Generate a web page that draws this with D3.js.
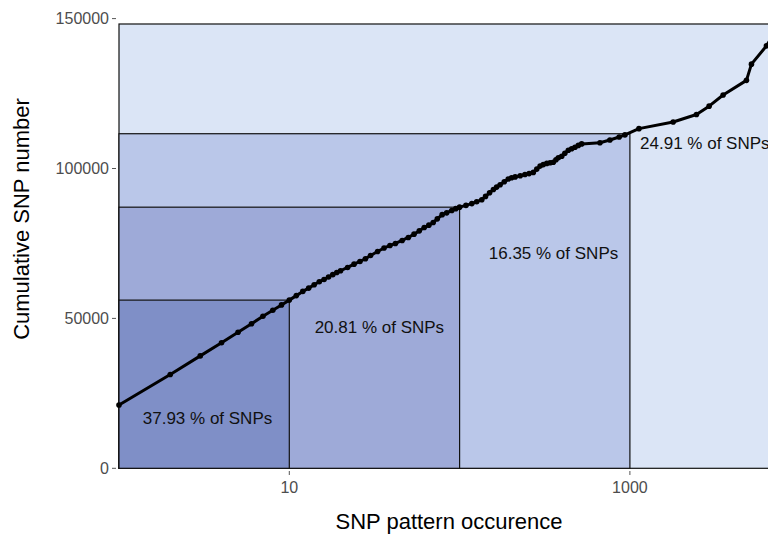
<!DOCTYPE html>
<html><head><meta charset="utf-8">
<script src="https://cdn.jsdelivr.net/npm/d3@7"></script>
<style>body{margin:0;background:#fff}svg{display:block;font-family:"Liberation Sans",Arial,sans-serif}</style>
</head><body>
<script>
// occurrence counts (x) and cumulative SNP number (y)
const occurrence = [1,2,3,4,5,6,7,8,9,10,11,12,13,14,15,16,17,18,19,20,22,24,26,28,30,33,36,39,42,46,50,54,58,62,66,70,74,79,84,90,95,100,109,118,126,135,142,150,158,165,173,183,193,202,212,227,242,256,271,284,297,310,325,340,355,368,380,398,415,435,455,476,498,521,667,763,865,935,1130,1795,2460,2918,3526,4835,5173,6336,7600];
const cumulative = [21100,31300,37500,41900,45400,48200,50700,52700,54500,56100,57600,59000,60100,61200,62200,63000,63800,64600,65300,65900,67000,68100,69000,69900,71000,72300,73500,74300,75000,76000,77000,78100,79200,80300,81100,82000,83200,84600,85200,86000,86600,87100,87700,88300,88900,89600,90700,91900,93000,93800,94600,95600,96500,96900,97200,97600,98000,98300,98700,99800,100800,101300,101700,101900,102100,102900,103600,104100,105100,106100,106600,107100,107700,108200,108600,109500,110500,111200,113300,115500,118000,120800,124500,129400,134800,140900,148200];
// bins: upper occurrence bound, cumulative SNPs at bound, label
const binUpper = [10,100,1000,7600];
const binCumulative = [56100,87100,111600,148200];
const binLabels = ["37.93 % of SNPs","20.81 % of SNPs","16.35 % of SNPs","24.91 % of SNPs"];
const labelX = [3.31,33.8,356,2754];
const labelY = [16800,47100,71800,108500];
const binColors = ["#7f8fc7","#9eaad8","#bac7e9","#dbe5f6"];
const yTicks = [0,50000,100000,150000];
const xTicks = [10,1000];

const W=768,H=534;
const svg=d3.select("body").append("svg").attr("width",W).attr("height",H);
const left=119, decade=170.3;
const x=d3.scaleLog().domain([1,7600]).range([left,left+decade*Math.log10(7600)]);
const y=d3.scaleLinear().domain([0,150000]).range([468.3,18.6]);

// rectangles, largest first
const idx=d3.range(binUpper.length).reverse();
svg.selectAll("rect.bin").data(idx).join("rect").attr("class","bin")
  .attr("x",x(1)).attr("y",i=>y(binCumulative[i]))
  .attr("width",i=>x(binUpper[i])-x(1)).attr("height",i=>y(0)-y(binCumulative[i]))
  .attr("fill",i=>binColors[i]).attr("stroke","#111").attr("stroke-width",1.2);

// labels
svg.selectAll("text.lab").data(d3.range(binLabels.length)).join("text").attr("class","lab")
  .attr("x",i=>x(labelX[i])).attr("y",i=>y(labelY[i])).attr("dy","0.35em")
  .attr("text-anchor","middle").attr("font-size",17).attr("fill","#111")
  .text(i=>binLabels[i]);

// line + points
const pts=occurrence.map((o,i)=>[o,cumulative[i]]);
svg.append("path").datum(pts).attr("fill","none").attr("stroke","#000").attr("stroke-width",3)
  .attr("stroke-linejoin","round")
  .attr("d",d3.line().x(d=>x(d[0])).y(d=>y(d[1])));
svg.selectAll("circle").data(pts).join("circle")
  .attr("cx",d=>x(d[0])).attr("cy",d=>y(d[1])).attr("r",2.8).attr("fill","#000");

// y axis ticks
const yg=svg.append("g");
yTicks.forEach(t=>{
  yg.append("line").attr("x1",112).attr("x2",116).attr("y1",y(t)).attr("y2",y(t)).attr("stroke","#555").attr("stroke-width",1);
  yg.append("text").attr("x",109).attr("y",y(t)).attr("dy","0.35em").attr("text-anchor","end")
    .attr("font-size",16).attr("fill","#4d4d4d").text(t);
});
// x axis ticks
xTicks.forEach(t=>{
  svg.append("line").attr("x1",x(t)).attr("x2",x(t)).attr("y1",471).attr("y2",475).attr("stroke","#555");
  svg.append("text").attr("x",x(t)).attr("y",487).attr("dy","0.35em").attr("text-anchor","middle")
    .attr("font-size",16).attr("fill","#4d4d4d").text(t);
});

// titles
svg.append("text").attr("x",449).attr("y",521).attr("dy","0.35em").attr("text-anchor","middle")
  .attr("font-size",22).attr("fill","#000").text("SNP pattern occurence");
svg.append("text").attr("transform","translate(21,219) rotate(-90)").attr("dy","0.35em").attr("text-anchor","middle")
  .attr("font-size",22).attr("fill","#000").text("Cumulative SNP number");
</script>
</body></html>
